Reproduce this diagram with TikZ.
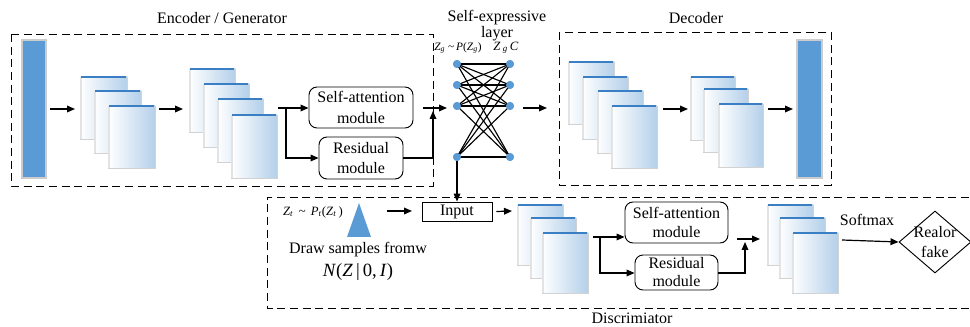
\documentclass[tikz,border=0pt]{standalone}
\usepackage{fontspec}
\setmainfont{Liberation Serif}
\usetikzlibrary{arrows.meta,shapes.geometric}
\definecolor{barblue}{HTML}{5B9BD5}
\definecolor{pageblue}{HTML}{B4D0EA}
\definecolor{edgeblue}{HTML}{3A7FC4}
\newcommand{\fpage}[5]{%
  \node[fpage, minimum width=#4*0.75pt, minimum height=#5*0.75pt] (#1) at (#2,#3) {};
  \fill[gray!22] (#1.north west) rectangle ([xshift=1.8pt]#1.south west);
  \draw[edgeblue, line width=1.6pt] ([xshift=0.4pt]#1.north west) -- ([xshift=-0.4pt]#1.north east);}
\begin{document}
\begin{tikzpicture}[x=0.75pt,y=-0.75pt,
  font=\fontsize{12}{14}\selectfont,
  >={Triangle[length=6pt,width=5pt]},
  fpage/.style={draw=gray!35, line width=0.5pt, left color=white, right color=pageblue,
    inner sep=0pt, outer sep=0pt, anchor=north west},
  bar/.style={draw=gray!40, fill=barblue, line width=0.8pt},
  modbox/.style={draw, line width=0.7pt, rounded corners=6pt, align=center, inner sep=0pt},
  sen/.style={circle, fill=barblue, inner sep=0pt, minimum size=6pt},
  dbox/.style={line width=0.7pt, dash pattern=on 6pt off 3.5pt},
  arr/.style={->, line width=0.9pt},
  small/.style={font=\fontsize{8.5}{9}\selectfont, inner sep=1pt}]
\useasboundingbox (0,0) rectangle (970,327);

% ---------- Encoder ----------
\draw[dbox] (11,34) rectangle (433,186);
\node (enct) at (222,18) {Encoder / Generator};
\draw[bar] (22,40) rectangle (46,178);
\coordinate (a1s) at (50,109); \coordinate (a1e) at (75,109);
\draw[arr] (a1s) -- (a1e);
\fpage{e11}{80}{77}{47}{62}
\fpage{e12}{94}{91}{47}{62}
\fpage{e13}{108}{106}{47}{62}
\coordinate (a2s) at (159,109); \coordinate (a2e) at (183,109);
\draw[arr] (a2s) -- (a2e);
\fpage{e21}{189}{69}{46}{63}
\fpage{e22}{203}{84}{46}{63}
\fpage{e23}{217}{99}{46}{63}
\fpage{e24}{231}{115}{46}{63}
\node[modbox, minimum width=78pt, minimum height=30.75pt, font=\fontsize{12}{15.5}\selectfont] (esa) at (361,107.5) {Self-attention\\module};
\node[modbox, minimum width=63pt, minimum height=31.5pt, font=\fontsize{12}{15.5}\selectfont] (eres) at (361,158) {Residual\\module};
\coordinate (eb0) at (278,108); \coordinate (eb1) at (286,108); \coordinate (eb2) at (286,158);
\draw[arr] (eb0) -- (esa.west |- eb0);
\draw[arr] (eb1) -- (eb2) -- (eres.west);
\coordinate (ej) at (433,158); \coordinate (ejt) at (433,111);
\draw[arr] (eres.east) -- (ej) -- (ejt);
\coordinate (eo1) at (423,108); \coordinate (eo2) at (447,108);
\draw[arr] (eo1) -- (eo2);

% ---------- Self-expressive layer ----------
\node[align=center, inner sep=0.5pt, font=\fontsize{12}{12}\selectfont] (set) at (497,26) {Self-expressive\\layer};
\foreach \k/\y in {1/64,2/85,3/106,4/157}{
  \node[sen] (l\k) at (457,\y) {};
  \node[sen] (r\k) at (510,\y) {};
}
\foreach \i in {1,...,4}{\foreach \j in {1,...,4}{\draw[line width=0.85pt] (l\i.center) -- (r\j.center);}}
\foreach \k/\y in {1/64,2/85,3/106,4/157}{
  \node[sen] at (457,\y) {};
  \node[sen] at (510,\y) {};
}
\node[small] (zg) at (458,48) {\textit{Z}\textsubscript{\textit{g}} \textasciitilde\,\textit{P}(\textit{Z}\textsubscript{\textit{g}})};
\node[font=\fontsize{9.5}{10}\selectfont, inner sep=1pt] (zgc) at (506,48) {\textit{Z}\,\textsubscript{\textit{g}}\,\textit{C}};
\coordinate (a3s) at (523,108); \coordinate (a3e) at (547,108);
\draw[arr] (a3s) -- (a3e);

% ---------- Decoder ----------
\draw[dbox] (559,32) rectangle (831,185);
\node (dect) at (696,18) {Decoder};
\fpage{d11}{568}{62}{46}{62}
\fpage{d12}{582}{77}{46}{62}
\fpage{d13}{597}{91}{46}{62}
\fpage{d14}{611}{106}{46}{62}
\coordinate (a4s) at (663,109); \coordinate (a4e) at (688,109);
\draw[arr] (a4s) -- (a4e);
\fpage{d21}{690}{77}{45}{63}
\fpage{d22}{703}{89}{45}{63}
\fpage{d23}{718}{104}{45}{63}
\coordinate (a5s) at (768,109); \coordinate (a5e) at (793,109);
\draw[arr] (a5s) -- (a5e);
\draw[bar] (797,40) rectangle (822,178);

% ---------- Discriminator ----------
\draw[dbox] (969,197) -- (267,197) -- (267,308) -- (969,308);
\node (disct) at (632,318) {Discrimiator};
\node[font=\fontsize{9.5}{10}\selectfont] (zt) at (313,212) {\textit{Z}\textsubscript{\textit{t}}\, \textasciitilde\, \textit{P}\textsubscript{\textit{t}}(\textit{Z}\textsubscript{\textit{t}}\,)};
\fill[barblue] (359,203) -- (347,237) -- (371,237) -- cycle;
\node (draw) at (358,250) {Draw samples fromw};
\node[font=\fontsize{14}{16}\selectfont] (nz) at (358,272) {\textit{N}(\textit{Z}\,|\,0,\,\textit{I})};
\node[draw, line width=0.7pt, minimum width=52.5pt, minimum height=14.25pt, inner sep=0pt] (inp) at (457,211.5) {Input};
\draw[arr] (l4) -- (inp.north);
\coordinate (a6s) at (387,211); \coordinate (a6e) at (412,211);
\draw[arr] (a6s) -- (a6e);
\coordinate (a7e) at (512,211);
\draw[arr] ([xshift=3pt]inp.east) -- (a7e);
\fpage{s11}{517}{205}{46}{60}
\fpage{s12}{530}{218}{46}{60}
\fpage{s13}{542}{233}{46}{60}
\node[modbox, minimum width=77.25pt, minimum height=30.75pt, font=\fontsize{12}{14.5}\selectfont] (dsa) at (676.5,222.5) {Self-attention\\module};
\node[modbox, minimum width=62.25pt, minimum height=26.25pt, font=\fontsize{12}{13.5}\selectfont] (dres) at (676.5,272.5) {Residual\\module};
\coordinate (db0) at (593,237); \coordinate (db1) at (600,237); \coordinate (db2) at (600,273);
\draw[arr] (db0) -- (dsa.west |- db0);
\draw[arr] (db1) -- (db2) -- (dres.west |- db2);
\coordinate (dj) at (745,273); \coordinate (djt) at (745,242);
\draw[arr] (dres.east |- dj) -- (dj) -- (djt);
\coordinate (do1) at (737,239); \coordinate (do2) at (760,239);
\draw[arr] (do1) -- (do2);
\fpage{s21}{767}{205}{46}{60}
\fpage{s22}{779}{218}{46}{60}
\fpage{s23}{792}{233}{46}{60}
\node[draw, diamond, line width=0.7pt, minimum width=54pt, minimum height=46.5pt, inner sep=0pt] (rf) at (935,242) {};
\node[align=center, font=\fontsize{12}{14.5}\selectfont] (rft) at (rf) {Realor\\fake};
\coordinate (a8s) at (842,240);
\draw[arr] (a8s) -- (rf.west);
\node (sm) at (867,220) {Softmax};
\end{tikzpicture}
\end{document}
